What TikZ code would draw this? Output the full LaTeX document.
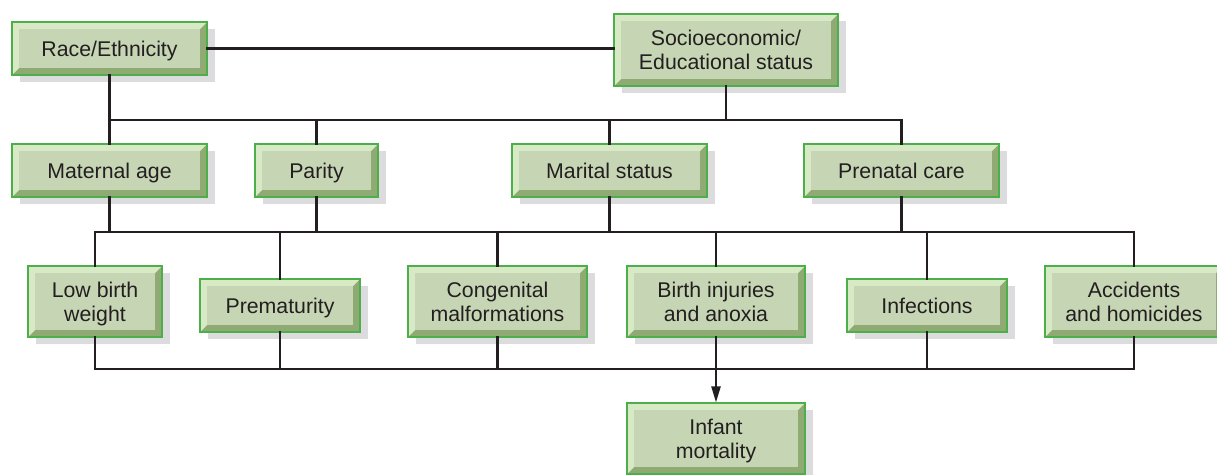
\documentclass[tikz,border=0pt]{standalone}
\usepackage{fontspec}
\setmainfont{Liberation Sans}
\usetikzlibrary{shadows,arrows.meta}

\definecolor{boxface}{HTML}{C6D5B4}
\definecolor{boxlight}{HTML}{D8E9C5}
\definecolor{boxdark}{HTML}{8FAA72}
\definecolor{boxline}{HTML}{4CAF4A}
\definecolor{boxshadow}{HTML}{DCDCDE}
\definecolor{linkline}{HTML}{231F20}

\begin{document}
\begin{tikzpicture}[x=1pt,y=-1pt,
  factor/.style={draw=boxline,line width=1.1pt,fill=boxdark,
    minimum width=#1,minimum height=53pt,inner sep=0pt,align=center,
    font=\fontsize{21.3}{24}\selectfont,text=linkline,text depth=0pt,
    drop shadow={shadow xshift=8pt,shadow yshift=-7pt,fill=boxshadow,opacity=1},
    path picture={
      \fill[boxlight] (path picture bounding box.south west)
        -- (path picture bounding box.north west)
        -- (path picture bounding box.north east)
        -- ([shift={(-7pt,-7pt)}]path picture bounding box.north east)
        -- ([shift={(7pt,-7pt)}]path picture bounding box.north west)
        -- ([shift={(7pt,7pt)}]path picture bounding box.south west) -- cycle;
      \fill[boxface] ([shift={(7pt,7pt)}]path picture bounding box.south west)
        rectangle ([shift={(-7pt,-7pt)}]path picture bounding box.north east);
    }},
  tall/.style={minimum height=71pt},
  link/.style={line width=2.2pt,draw=linkline,line cap=rect}]
\useasboundingbox (0,0) rectangle (1217,474);

% causes
\node[factor=195pt] (race) at (109.5,48.5) {Race/Ethnicity};
\node[factor=224pt,minimum height=72pt] (socio) at (726,50) {Socioeconomic/\\Educational status};

% intermediate factors
\node[factor=195pt] (matage) at (109.5,170.5) {Maternal age};
\node[factor=123pt] (parity) at (316.5,170.5) {Parity};
\node[factor=195pt] (marital) at (609.5,170.5) {Marital status};
\node[factor=195pt] (prenatal) at (901.5,170.5) {Prenatal care};

% immediate causes
\node[factor=134pt,tall] (lbw) at (95,301.5) {Low birth\\weight};
\node[factor=160pt] (prem) at (280,305.5) {Prematurity};
\node[factor=179pt,tall] (congen) at (497.5,301.5) {Congenital\\malformations};
\node[factor=178pt,tall] (injury) at (716,301.5) {Birth injuries\\and anoxia};
\node[factor=160pt] (infect) at (927,305.5) {Infections};
\node[factor=178pt,tall] (accid) at (1134,301.5) {Accidents\\and homicides};

% outcome
\node[factor=178pt,tall] (infant) at (716,438.5) {Infant\\mortality};

\coordinate (bus1) at (0,120);
\coordinate (bus2) at (0,232);
\coordinate (bus3) at (0,369);

\draw[link] (race.east) -- (race.east -| socio.west);
\draw[link] (race.south) -- (matage.north);
\draw[link] (socio.south) -- (socio.south |- bus1);
\draw[link] (matage.north |- bus1) -- (prenatal.north |- bus1);
\foreach \n in {parity,marital,prenatal}
  \draw[link] (\n.north) -- (\n.north |- bus1);

\foreach \n in {matage,parity,marital,prenatal}
  \draw[link] (\n.south) -- (\n.south |- bus2);
\draw[link] (lbw.north |- bus2) -- (accid.north |- bus2);
\foreach \n in {lbw,prem,congen,injury,infect,accid}
  \draw[link] (\n.north) -- (\n.north |- bus2);

\foreach \n in {lbw,prem,congen,injury,infect,accid}
  \draw[link] (\n.south) -- (\n.south |- bus3);
\draw[link] (lbw.south |- bus3) -- (accid.south |- bus3);
\draw[link,line cap=butt,-{Triangle[length=16pt,width=9pt]}] (injury.south |- bus3) -- (infant.north);
\end{tikzpicture}
\end{document}
